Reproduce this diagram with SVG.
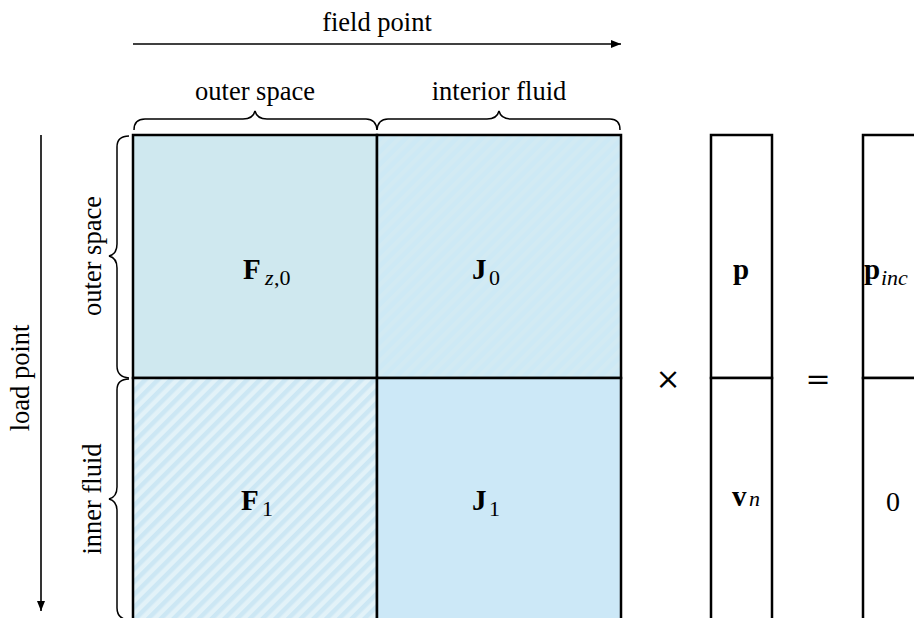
<svg xmlns="http://www.w3.org/2000/svg" width="914" height="618" viewBox="0 0 914 618">
<style>
.lbl{font-family:"Liberation Serif","Times New Roman",serif;font-size:26.5px;fill:#000}
.m{font-family:"Liberation Serif","Times New Roman",serif;font-size:29px;font-weight:bold;fill:#000}
.s{font-family:"Liberation Serif","Times New Roman",serif;font-size:22px;fill:#000}
.si{font-family:"Liberation Serif","Times New Roman",serif;font-size:22px;font-style:italic;fill:#000}
.op{font-family:"DejaVu Serif",serif;font-size:30px;font-weight:200;fill:#000}
.cell{stroke:#000;stroke-width:2.5}
.br{fill:none;stroke:#000;stroke-width:1.5}
.ax{stroke:#000;stroke-width:1.6;fill:none}
</style>
<defs>
<marker id="ah" viewBox="0 0 10 10" refX="10" refY="5" markerWidth="14" markerHeight="10" markerUnits="userSpaceOnUse" orient="auto">
<path d="M0,1 L10,5 L0,9 Z" fill="#000"/>
</marker>
<pattern id="hatchA" patternUnits="userSpaceOnUse" width="9" height="9" patternTransform="rotate(45)">
<rect width="9" height="9" fill="#e2f2f8"/>
<rect width="4.5" height="9" fill="#cce7f4"/>
</pattern>
<pattern id="hatchB" patternUnits="userSpaceOnUse" width="9" height="9" patternTransform="rotate(45)">
<rect width="9" height="9" fill="#cde9f5"/>
<rect width="4.5" height="9" fill="#d2eaf3"/>
</pattern>
</defs>

<g id="axes">
<line class="ax" x1="133" y1="44" x2="621" y2="44" marker-end="url(#ah)"/>
<text class="lbl" x="377" y="31" text-anchor="middle">field point</text>
<line class="ax" x1="41" y1="135" x2="41" y2="611" marker-end="url(#ah)"/>
<text class="lbl" transform="translate(29,378) rotate(-90)" text-anchor="middle">load point</text>
</g>

<g id="braces">
<path class="br" d="M134,130 Q134,119 145,119 L243,119 Q253,119 255,111 Q257,119 267,119 L366,119 Q376,119 377,130"/>
<text class="lbl" x="255" y="100" text-anchor="middle">outer space</text>
<path class="br" d="M377,130 Q378,119 388,119 L487,119 Q497,119 499,111 Q501,119 511,119 L610,119 Q620,119 620,130"/>
<text class="lbl" x="499" y="100" text-anchor="middle">interior fluid</text>
<path class="br" d="M129,136 Q117,136 117,147 L117,244 Q117,254 109,256 Q117,258 117,268 L117,366 Q117,377 129,378"/>
<text class="lbl" transform="translate(101,256) rotate(-90)" text-anchor="middle">outer space</text>
<path class="br" d="M129,379 Q117,379 117,390 L117,487 Q117,497 109,499 Q117,501 117,511 L117,608 Q117,619 129,620"/>
<text class="lbl" transform="translate(101,499) rotate(-90)" text-anchor="middle">inner fluid</text>
</g>

<g id="F_z0">
<rect class="cell" x="133" y="135" width="244" height="243" fill="#cfe8ef"/>
<text class="m" x="243" y="279">F</text>
<text class="si" x="265" y="285">z</text><text class="s" x="274" y="285">,0</text>
</g>
<g id="J_0">
<rect class="cell" x="377" y="135" width="244" height="243" fill="url(#hatchB)"/>
<text class="m" x="472" y="279">J</text>
<text class="s" x="489" y="285">0</text>
</g>
<g id="F_1">
<rect class="cell" x="133" y="378" width="244" height="244" fill="url(#hatchA)"/>
<text class="m" x="241" y="510">F</text>
<text class="s" x="262" y="516">1</text>
</g>
<g id="J_1">
<rect class="cell" x="377" y="378" width="244" height="244" fill="#cce8f7"/>
<text class="m" x="472" y="510">J</text>
<text class="s" x="489" y="516">1</text>
</g>

<g id="times"><text class="op" x="668" y="389" text-anchor="middle">×</text></g>

<g id="vec_p">
<rect class="cell" x="711" y="135" width="61" height="243" fill="#fff"/>
<text class="m" x="741" y="279" text-anchor="middle">p</text>
</g>
<g id="vec_vn">
<rect class="cell" x="711" y="378" width="61" height="244" fill="#fff"/>
<text class="m" x="732" y="506">v</text>
<text class="si" x="749" y="506">n</text>
</g>

<g id="equals"><text class="op" x="818" y="389" text-anchor="middle">=</text></g>

<g id="vec_pinc">
<rect class="cell" x="863" y="135" width="80" height="243" fill="#fff"/>
<text class="m" x="864" y="279">p</text>
<text class="si" x="881" y="285">inc</text>
</g>
<g id="vec_zero">
<rect class="cell" x="863" y="378" width="80" height="244" fill="#fff"/>
<text class="lbl" x="893" y="511" text-anchor="middle" style="font-size:28px">0</text>
</g>
</svg>
